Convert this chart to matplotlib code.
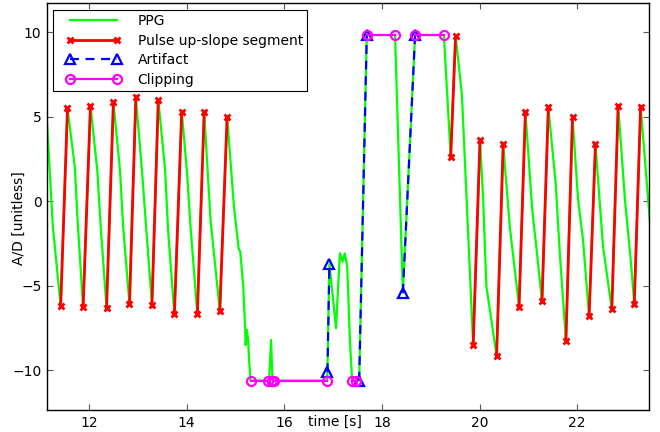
import matplotlib
matplotlib.use('Agg')
import matplotlib.pyplot as plt
import numpy as np
from matplotlib.lines import Line2D
from matplotlib.legend_handler import HandlerLine2D

# PPG trace: time [s], A/D value
ppg_t = [11.13, 11.26, 11.42, 11.56, 11.71, 11.77, 11.88, 12.03, 12.17, 12.24,
         12.36, 12.50, 12.635, 12.70, 12.83, 12.96, 13.085, 13.17, 13.29, 13.42,
         13.56, 13.62, 13.75, 13.90, 14.01, 14.08, 14.22, 14.36, 14.49, 14.68,
         14.83, 14.97, 15.065, 15.10, 15.16, 15.20, 15.21, 15.235, 15.26, 15.28,
         15.31, 15.69, 15.73, 15.76, 16.88, 16.925, 17.06, 17.14, 17.195, 17.24,
         17.29, 17.345, 17.39, 17.535, 17.69, 18.27, 18.43, 18.68, 19.27, 19.41,
         19.51, 19.64, 19.73, 19.87, 20.01, 20.075, 20.14, 20.35, 20.485, 20.62,
         20.81, 20.94, 21.08, 21.17, 21.28, 21.41, 21.56, 21.645, 21.77, 21.905,
         22.02, 22.12, 22.245, 22.375, 22.53, 22.71, 22.84, 22.98, 23.11, 23.17,
         23.30, 23.455, 23.52]
ppg_y = [5.22, -1.49, -6.18, 5.51, 2.06, -1.29, -6.26, 5.65, 1.86, -1.49,
         -6.30, 5.87, 1.86, -1.49, -6.07, 6.16, 1.86, -1.49, -6.12, 6.00,
         1.86, -1.69, -6.67, 5.31, 1.67, -1.49, -6.67, 5.28, -1.09, -6.46,
         5.02, -0.31, -2.77, -3.0, -5.0, -7.6, -8.5, -7.6, -8.2, -9.4,
         -10.6, -10.6, -8.2, -10.6, -10.6, -3.7, -7.5, -3.07, -3.56, -3.07,
         -3.86, -8.2, -10.6, -10.6, 9.85, 9.85, -5.4, 9.85, 9.85, 2.65,
         9.81, 6.3, 0.5, -8.49, 3.64, 0.1, -5.0, -9.14, 3.38, -1.49,
         -6.22, 5.31, -0.5, -2.87, -5.89, 5.57, 1.08, -3.07, -8.24, 4.98,
         0.09, -2.28, -6.78, 3.38, -2.67, -6.38, 5.67, 0.09, -3.86, -6.08,
         5.61, 0.09, -2.3]

# pulse up-slope segments (trough -> peak)
up_t0 = [11.42, 11.88, 12.36, 12.83, 13.29, 13.75, 14.22, 14.68, 19.41,
         19.87, 20.35, 20.81, 21.28, 21.77, 22.245, 22.71, 23.17]
up_y0 = [-6.18, -6.26, -6.30, -6.07, -6.12, -6.67, -6.67, -6.46, 2.65,
         -8.49, -9.14, -6.22, -5.89, -8.24, -6.78, -6.38, -6.08]
up_t1 = [11.56, 12.03, 12.50, 12.96, 13.42, 13.90, 14.36, 14.83, 19.51,
         20.01, 20.485, 20.94, 21.41, 21.905, 22.375, 22.84, 23.30]
up_y1 = [5.51, 5.65, 5.87, 6.16, 6.00, 5.31, 5.28, 5.02, 9.81,
         3.64, 3.38, 5.31, 5.57, 4.98, 3.38, 5.67, 5.61]

# artifact segments
art_t0 = [16.885, 17.535, 18.43]
art_y0 = [-10.1, -10.6, -5.4]
art_t1 = [16.925, 17.69, 18.68]
art_y1 = [-3.7, 9.85, 9.85]

# clipping segments
clip_t0 = [15.31, 15.74, 15.795, 17.39, 17.69, 18.68]
clip_t1 = [15.67, 15.74, 16.88, 17.46, 18.27, 19.27]
clip_y = [-10.6, -10.6, -10.6, -10.6, 9.85, 9.85]

x_ticks = [12, 14, 16, 18, 20, 22]
y_ticks = [-10, -5, 0, 5, 10]


def segs(x0, x1, y0, y1):
    n = len(x0)
    gap = np.full(n, np.nan)
    xs = np.column_stack([x0, x1, gap]).ravel()
    ys = np.column_stack([y0, y1, gap]).ravel()
    return xs, ys


fig = plt.figure(figsize=(6.6, 4.32), dpi=100)
ax = fig.add_axes([0.0712, 0.0509, 0.912, 0.942])

ax.plot(ppg_t, ppg_y, color=(0, 1, 0), lw=1.6, label='PPG')

ux, uy = segs(up_t0, up_t1, up_y0, up_y1)
ax.plot(ux, uy, color='r', lw=2.0, marker='x', ms=5, mew=2,
        label='Pulse up-slope segment')

ax_, ay_ = segs(art_t0, art_t1, art_y0, art_y1)
ax.plot(ax_, ay_, color='b', lw=1.6, ls='--', dashes=(4, 3), marker='^',
        ms=7, mfc='none', mew=1.6, label='Artifact')

cx, cy = segs(clip_t0, clip_t1, clip_y, clip_y)
ax.plot(cx, cy, color=(1, 0, 1), lw=1.6, marker='o', ms=6.5, mfc='none',
        mew=1.6, label='Clipping')

ax.set_xlim(11.14, 23.47)
ax.set_ylim(-12.34, 11.74)
ax.set_xticks(x_ticks)
ax.set_yticks(y_ticks)
ax.tick_params(direction='in', length=4.5, width=0.8, color='0.35',
               top=True, right=True, labelsize=10, pad=4)
for s in ax.spines.values():
    s.set_linewidth(1.0)

ax.set_xlabel('time [s]', fontsize=10, va='center')
ax.xaxis.set_label_coords(0.478, -0.028)
ax.set_ylabel('A/D [unitless]', fontsize=10, va='center')
ax.yaxis.set_label_coords(-0.0465, 0.472)

leg = ax.legend(loc='upper left', bbox_to_anchor=(0.01, 0.983),
                borderaxespad=0, fancybox=False, framealpha=1,
                edgecolor='k', fontsize=10, numpoints=2,
                handlelength=5.2, handletextpad=0.6, borderpad=0.3,
                labelspacing=0.4,
                handler_map={Line2D: HandlerLine2D(marker_pad=0.9)})
leg.get_frame().set_linewidth(0.8)

fig.savefig('out.png', dpi=100)
